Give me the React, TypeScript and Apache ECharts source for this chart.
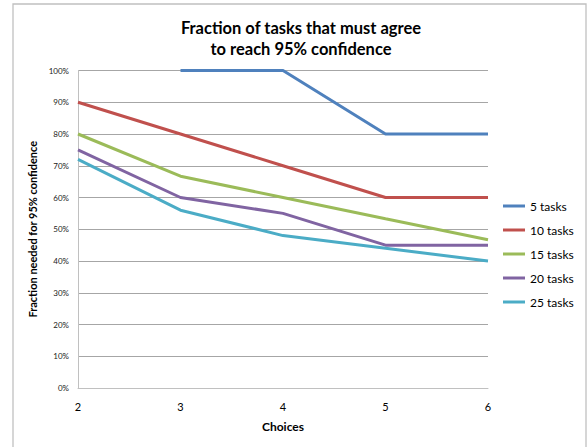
import React, { useEffect, useRef } from "react";
import * as echarts from "echarts";

const choices = ["2", "3", "4", "5", "6"];
const seriesNames = ["5 tasks", "10 tasks", "15 tasks", "20 tasks", "25 tasks"];
const tasks5 = [null, 1.0, 1.0, 0.8, 0.8];
const tasks10 = [0.9, 0.8, 0.7, 0.6, 0.6];
const tasks15 = [0.8, 0.667, 0.6, 0.533, 0.467];
const tasks20 = [0.75, 0.6, 0.55, 0.45, 0.45];
const tasks25 = [0.72, 0.56, 0.48, 0.44, 0.4];
const colors = ["#4F81BD", "#C0504D", "#9BBB59", "#8064A2", "#4BACC6"];

const FONT = "Lato, 'Open Sans', sans-serif";

export default function App() {
  const ref = useRef<HTMLDivElement>(null);
  useEffect(() => {
    if (!ref.current) return;
    const chart = echarts.init(ref.current, undefined, { renderer: "svg" });
    const allData = [tasks5, tasks10, tasks15, tasks20, tasks25];
    chart.setOption({
      animation: false,
      backgroundColor: "#ffffff",
      textStyle: { fontFamily: FONT },
      title: {
        text: "Fraction of tasks that must agree\nto reach 95% confidence",
        left: 301,
        top: 17,
        textAlign: "center",
        padding: 0,
        textStyle: {
          fontFamily: FONT,
          fontSize: 16.5,
          fontWeight: "bold",
          color: "#000",
          lineHeight: 21,
        },
      },
      graphic: [
        {
          type: "rect",
          shape: { x: 13, y: 4, width: 573, height: 460 },
          style: { fill: "none", stroke: "#c0c0c0", lineWidth: 1.3 },
          silent: true,
        },
      ],
      legend: {
        orient: "vertical",
        left: 503,
        top: 199,
        padding: 0,
        itemWidth: 22,
        itemHeight: 3,
        itemGap: 10,
        icon: "rect",
        data: seriesNames,
        textStyle: { fontFamily: FONT, fontSize: 12, color: "#000", lineHeight: 14 },
      },
      grid: { left: 78, right: 99, top: 70.5, bottom: 59 },
      xAxis: {
        type: "category",
        data: choices,
        boundaryGap: false,
        name: "Choices",
        nameLocation: "middle",
        nameGap: 32,
        nameTextStyle: { fontFamily: FONT, fontSize: 12, fontWeight: "bold", color: "#000" },
        axisLine: { lineStyle: { color: "#c0c0c0", width: 1 } },
        axisTick: { show: false },
        axisLabel: { fontFamily: FONT, fontSize: 11, color: "#000", margin: 13 },
        splitLine: { show: false },
      },
      yAxis: {
        type: "value",
        min: 0,
        max: 1,
        interval: 0.1,
        name: "Fraction needed for 95% confidence",
        nameLocation: "middle",
        nameRotate: 90,
        nameGap: 32,
        nameTextStyle: { fontFamily: FONT, fontSize: 11, fontWeight: "bold", color: "#000" },
        axisLine: { show: true, lineStyle: { color: "#c0c0c0", width: 1 } },
        axisTick: { show: false },
        axisLabel: {
          fontFamily: FONT,
          fontSize: 8,
          color: "#222",
          margin: 9,
          formatter: (v: number) => Math.round(v * 100) + "%",
        },
        splitLine: { show: true, lineStyle: { color: "#a6a6a6", width: 1 } },
      },
      series: seriesNames.map((name, i) => ({
        name,
        type: "line",
        data: allData[i],
        symbol: "none",
        showSymbol: false,
        connectNulls: false,
        lineStyle: { color: colors[i], width: 3 },
        itemStyle: { color: colors[i] },
        clip: false,
      })),
    });
    return () => chart.dispose();
  }, []);
  return (
    <div
      ref={ref}
      style={{ position: "fixed", left: 0, top: 0, width: 587, height: 447 }}
    />
  );
}
